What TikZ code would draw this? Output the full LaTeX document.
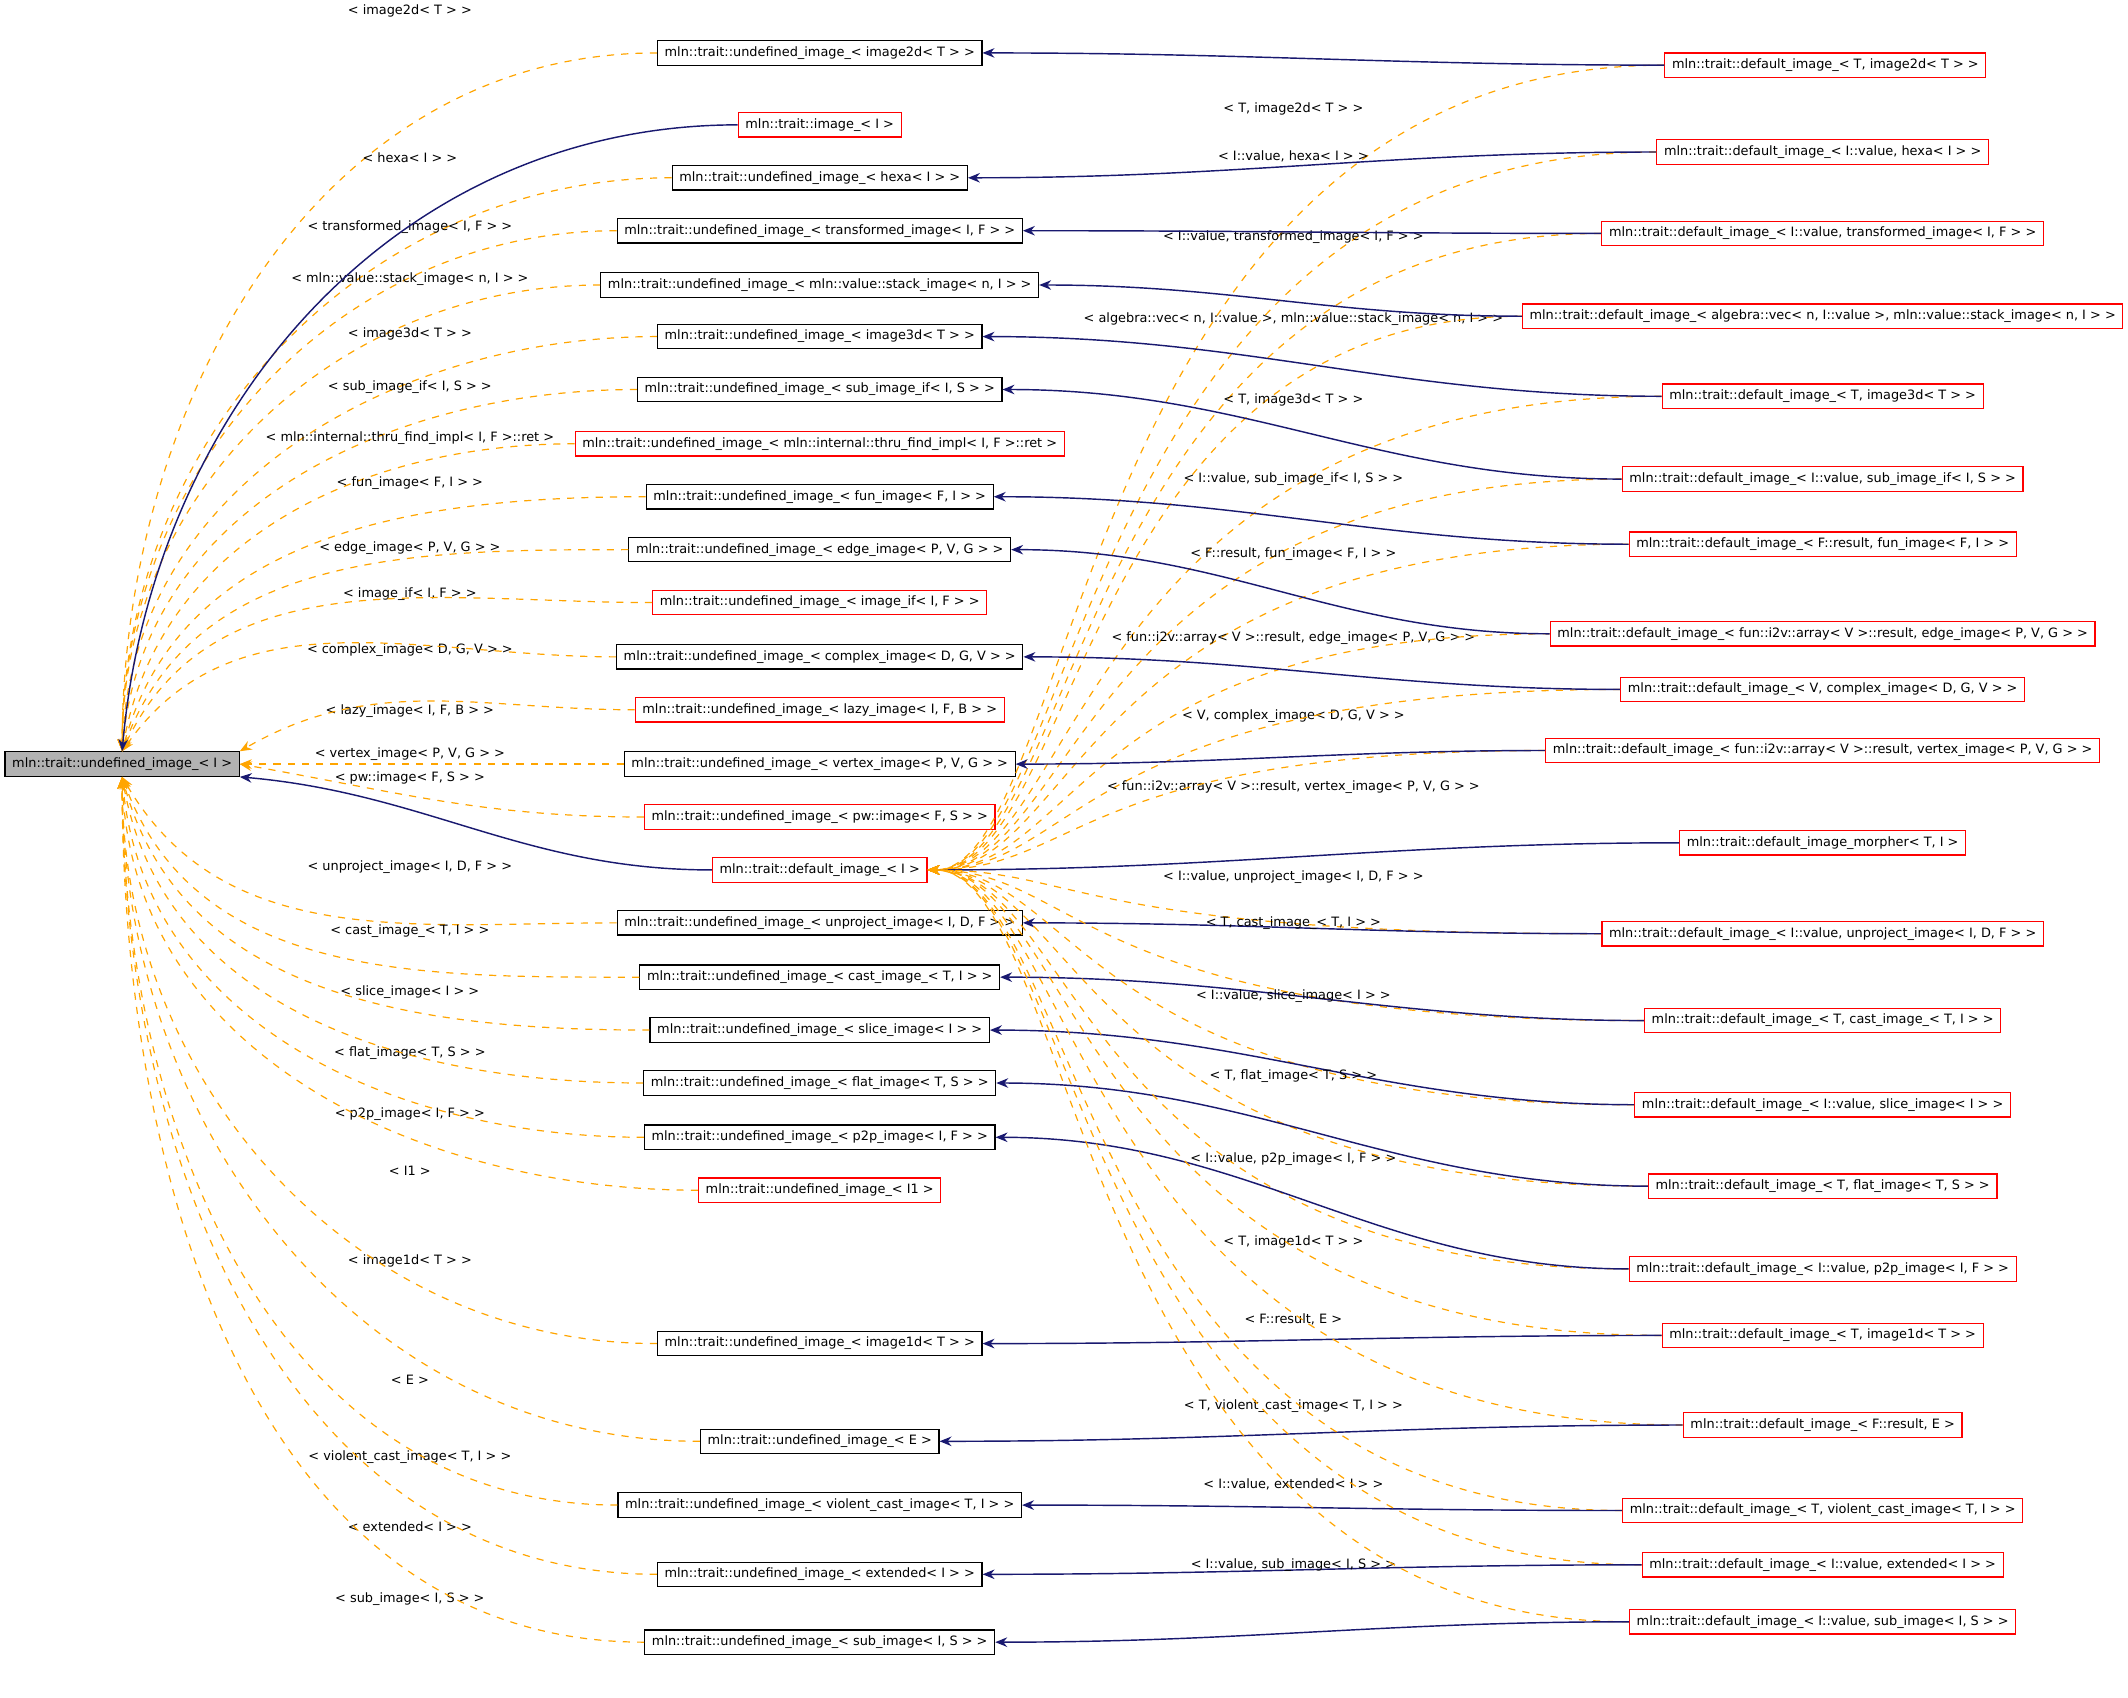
\documentclass[tikz,border=0pt]{standalone}
\usepackage{fontspec}
\setmainfont{DejaVu Sans}
\usetikzlibrary{arrows.meta}
\definecolor{nv}{RGB}{25,25,112}
\definecolor{og}{RGB}{255,165,0}
\tikzset{
 bx/.style={draw=black,fill=white,inner xsep=3pt,inner ysep=0pt,minimum height=0.36cm,font=\fontsize{5.4pt}{6pt}\selectfont,line width=0.5pt},
 rbx/.style={bx,draw=red},
 lbl/.style={font=\fontsize{5.4pt}{6pt}\selectfont,inner sep=1pt},
 oedge/.style={draw=og,dashed,line width=0.5pt,-{Stealth[length=5pt,width=4pt]}},
 nedge/.style={draw=nv,line width=0.6pt,-{Stealth[length=5pt,width=4pt]}}
}
\newcommand\LE[5]{\node[lbl] (lab#1) at (302,#2) {#3};
\draw[oedge] (#1.west) to[out=180,in=#5] (#4);}
\newcommand\RE[5]{\node[lbl] (rl#1) at (953,#2) {#3};
\draw[oedge] (#1.west) .. controls (#1.west -| vx) and (vx) .. (dI.east);
\draw[nedge] (#1.west) to[out=180,in=0] (#4.east);}
\begin{document}
\begin{tikzpicture}[x=0.02cm,y=-0.02cm]
\useasboundingbox[fill=white] (0,0) rectangle (1568,1251);
\coordinate (vx) at (795,641);
\node[bx,fill=black!30,minimum width=3.44cm] (root) at (90,563) {mln::trait::undefined\_image\_< I >};
\node[bx] (m1) at (604,39) {mln::trait::undefined\_image\_< image2d< T > >};
\node[rbx] (m2) at (604,92) {mln::trait::image\_< I >};
\node[bx] (m3) at (604,131) {mln::trait::undefined\_image\_< hexa< I > >};
\node[bx] (m4) at (604,170) {mln::trait::undefined\_image\_< transformed\_image< I, F > >};
\node[bx] (m5) at (604,210) {mln::trait::undefined\_image\_< mln::value::stack\_image< n, I > >};
\node[bx] (m6) at (604,248) {mln::trait::undefined\_image\_< image3d< T > >};
\node[bx] (m7) at (604,287) {mln::trait::undefined\_image\_< sub\_image\_if< I, S > >};
\node[rbx] (m8) at (604,327) {mln::trait::undefined\_image\_< mln::internal::thru\_find\_impl< I, F >::ret >};
\node[bx] (m9) at (604,366) {mln::trait::undefined\_image\_< fun\_image< F, I > >};
\node[bx] (m10) at (604,405) {mln::trait::undefined\_image\_< edge\_image< P, V, G > >};
\node[rbx] (m11) at (604,444) {mln::trait::undefined\_image\_< image\_if< I, F > >};
\node[bx] (m12) at (604,484) {mln::trait::undefined\_image\_< complex\_image< D, G, V > >};
\node[rbx] (m13) at (604,523) {mln::trait::undefined\_image\_< lazy\_image< I, F, B > >};
\node[bx] (m14) at (604,563) {mln::trait::undefined\_image\_< vertex\_image< P, V, G > >};
\node[rbx] (m15) at (604,602) {mln::trait::undefined\_image\_< pw::image< F, S > >};
\node[rbx] (dI) at (604,641) {mln::trait::default\_image\_< I >};
\node[bx] (m17) at (604,680) {mln::trait::undefined\_image\_< unproject\_image< I, D, F > >};
\node[bx] (m18) at (604,720) {mln::trait::undefined\_image\_< cast\_image\_< T, I > >};
\node[bx] (m19) at (604,759) {mln::trait::undefined\_image\_< slice\_image< I > >};
\node[bx] (m20) at (604,798) {mln::trait::undefined\_image\_< flat\_image< T, S > >};
\node[bx] (m21) at (604,838) {mln::trait::undefined\_image\_< p2p\_image< I, F > >};
\node[rbx] (m22) at (604,877) {mln::trait::undefined\_image\_< I1 >};
\node[bx] (m23) at (604,990) {mln::trait::undefined\_image\_< image1d< T > >};
\node[bx] (m24) at (604,1062) {mln::trait::undefined\_image\_< E >};
\node[bx] (m25) at (604,1109) {mln::trait::undefined\_image\_< violent\_cast\_image< T, I > >};
\node[bx] (m26) at (604,1160) {mln::trait::undefined\_image\_< extended< I > >};
\node[bx] (m27) at (604,1210) {mln::trait::undefined\_image\_< sub\_image< I, S > >};
% right column
\node[rbx] (r1) at (1345,48) {mln::trait::default\_image\_< T, image2d< T > >};
\node[rbx] (r2) at (1343,112) {mln::trait::default\_image\_< I::value, hexa< I > >};
\node[rbx] (r3) at (1343,172) {mln::trait::default\_image\_< I::value, transformed\_image< I, F > >};
\node[rbx] (r4) at (1343,233) {mln::trait::default\_image\_< algebra::vec< n, I::value >, mln::value::stack\_image< n, I > >};
\node[rbx] (r5) at (1343,292) {mln::trait::default\_image\_< T, image3d< T > >};
\node[rbx] (r6) at (1343,353) {mln::trait::default\_image\_< I::value, sub\_image\_if< I, S > >};
\node[rbx] (r7) at (1343,401) {mln::trait::default\_image\_< F::result, fun\_image< F, I > >};
\node[rbx] (r8) at (1343,467) {mln::trait::default\_image\_< fun::i2v::array< V >::result, edge\_image< P, V, G > >};
\node[rbx] (r9) at (1343,508) {mln::trait::default\_image\_< V, complex\_image< D, G, V > >};
\node[rbx] (r10) at (1343,553) {mln::trait::default\_image\_< fun::i2v::array< V >::result, vertex\_image< P, V, G > >};
\node[rbx] (r11) at (1343,621) {mln::trait::default\_image\_morpher< T, I >};
\node[rbx] (r12) at (1343,688) {mln::trait::default\_image\_< I::value, unproject\_image< I, D, F > >};
\node[rbx] (r13) at (1343,752) {mln::trait::default\_image\_< T, cast\_image\_< T, I > >};
\node[rbx] (r14) at (1343,814) {mln::trait::default\_image\_< I::value, slice\_image< I > >};
\node[rbx] (r15) at (1343,874) {mln::trait::default\_image\_< T, flat\_image< T, S > >};
\node[rbx] (r16) at (1343,935) {mln::trait::default\_image\_< I::value, p2p\_image< I, F > >};
\node[rbx] (r17) at (1343,984) {mln::trait::default\_image\_< T, image1d< T > >};
\node[rbx] (r18) at (1343,1050) {mln::trait::default\_image\_< F::result, E >};
\node[rbx] (r19) at (1343,1113) {mln::trait::default\_image\_< T, violent\_cast\_image< T, I > >};
\node[rbx] (r20) at (1343,1153) {mln::trait::default\_image\_< I::value, extended< I > >};
\node[rbx] (r21) at (1343,1195) {mln::trait::default\_image\_< I::value, sub\_image< I, S > >};
% left edges
\LE{m1}{8}{< image2d< T > >}{root.north}{90}
\LE{m3}{116}{< hexa< I > >}{root.north}{90}
\LE{m4}{167}{< transformed\_image< I, F > >}{root.north}{90}
\LE{m5}{206}{< mln::value::stack\_image< n, I > >}{root.north}{90}
\LE{m6}{246}{< image3d< T > >}{root.north}{88}
\LE{m7}{285}{< sub\_image\_if< I, S > >}{root.north}{85}
\LE{m8}{323}{< mln::internal::thru\_find\_impl< I, F >::ret >}{root.north}{80}
\LE{m9}{356}{< fun\_image< F, I > >}{root.north}{75}
\LE{m10}{404}{< edge\_image< P, V, G > >}{root.north}{70}
\LE{m11}{438}{< image\_if< I, F > >}{root.north}{65}
\LE{m12}{479}{< complex\_image< D, G, V > >}{root.north}{55}
\LE{m13}{524}{< lazy\_image< I, F, B > >}{root.north east}{30}
\LE{m14}{556}{< vertex\_image< P, V, G > >}{root.east}{0}
\LE{m15}{573}{< pw::image< F, S > >}{root.east}{-10}
\LE{m17}{639}{< unproject\_image< I, D, F > >}{root.south}{-60}
\LE{m18}{686}{< cast\_image\_< T, I > >}{root.south}{-70}
\LE{m19}{731}{< slice\_image< I > >}{root.south}{-75}
\LE{m20}{776}{< flat\_image< T, S > >}{root.south}{-80}
\LE{m21}{821}{< p2p\_image< I, F > >}{root.south}{-85}
\LE{m22}{863}{< I1 >}{root.south}{-88}
\LE{m23}{929}{< image1d< T > >}{root.south}{-90}
\LE{m24}{1017}{< E >}{root.south}{-90}
\LE{m25}{1074}{< violent\_cast\_image< T, I > >}{root.south}{-90}
\LE{m26}{1125}{< extended< I > >}{root.south}{-90}
\LE{m27}{1178}{< sub\_image< I, S > >}{root.south}{-90}
\draw[nedge] (m2.west) to[out=180,in=85] (root.north);
\draw[nedge] (dI.west) to[out=180,in=-5] (root.south east);
% right edges
\RE{r1}{80}{< T, image2d< T > >}{m1}{}
\RE{r2}{115}{< I::value, hexa< I > >}{m3}{}
\RE{r3}{175}{< I::value, transformed\_image< I, F > >}{m4}{}
\RE{r4}{235}{< algebra::vec< n, I::value >, mln::value::stack\_image< n, I > >}{m5}{}
\RE{r5}{295}{< T, image3d< T > >}{m6}{}
\RE{r6}{353}{< I::value, sub\_image\_if< I, S > >}{m7}{}
\RE{r7}{408}{< F::result, fun\_image< F, I > >}{m9}{}
\RE{r8}{470}{< fun::i2v::array< V >::result, edge\_image< P, V, G > >}{m10}{}
\RE{r9}{528}{< V, complex\_image< D, G, V > >}{m12}{}
\RE{r10}{580}{< fun::i2v::array< V >::result, vertex\_image< P, V, G > >}{m14}{}
\draw[nedge] (r11.west) to[out=180,in=0] (dI.east);
\RE{r12}{646}{< I::value, unproject\_image< I, D, F > >}{m17}{}
\RE{r13}{680}{< T, cast\_image\_< T, I > >}{m18}{}
\RE{r14}{734}{< I::value, slice\_image< I > >}{m19}{}
\RE{r15}{793}{< T, flat\_image< T, S > >}{m20}{}
\RE{r16}{854}{< I::value, p2p\_image< I, F > >}{m21}{}
\RE{r17}{915}{< T, image1d< T > >}{m23}{}
\RE{r18}{972}{< F::result, E >}{m24}{}
\RE{r19}{1036}{< T, violent\_cast\_image< T, I > >}{m25}{}
\RE{r20}{1094}{< I::value, extended< I > >}{m26}{}
\RE{r21}{1153}{< I::value, sub\_image< I, S > >}{m27}{}
\end{tikzpicture}
\end{document}
